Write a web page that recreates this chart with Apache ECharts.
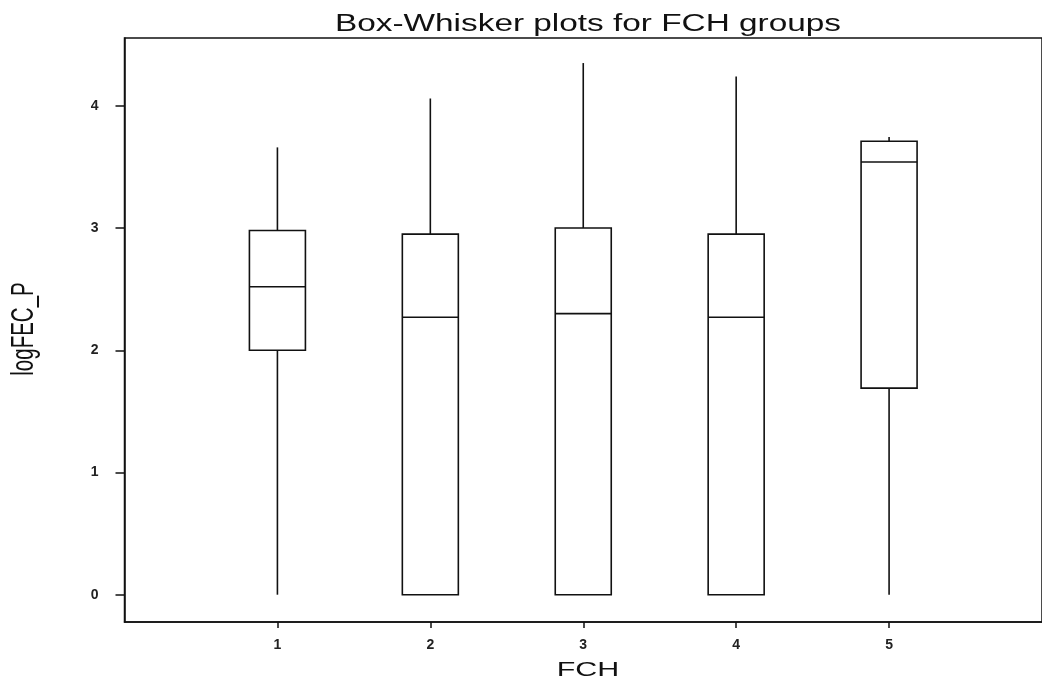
<!DOCTYPE html>
<html>
<head>
<meta charset="utf-8">
<title>Box-Whisker plots for FCH groups</title>
<script src="https://cdn.jsdelivr.net/npm/echarts@6/dist/echarts.min.js"></script>
<style>
  html, body { margin: 0; padding: 0; background: #fff; }
  #chart { width: 1042px; height: 682px; }
</style>
</head>
<body>
<div id="chart"></div>
<script>
  // FCH groups and five-number summaries
  let groups = [1, 2, 3, 4, 5]
  let minVals = [0, 0, 0, 0, 0]
  let q1Vals = [2.0, 0, 0, 0, 1.69]
  let medianVals = [2.52, 2.27, 2.30, 2.27, 3.54]
  let q3Vals = [2.98, 2.95, 3.00, 2.95, 3.71]
  let maxVals = [3.66, 4.06, 4.35, 4.24, 3.745]
  let yTicks = [0, 1, 2, 3, 4]

  let boxData = groups.map((g, i) => [g, minVals[i], q1Vals[i], medianVals[i], q3Vals[i], maxVals[i]])

  let dom = document.getElementById('chart')
  let myChart = echarts.init(dom)

  const font = '"Liberation Sans", Arial, sans-serif'
  const halfW = 28

  function renderBox(params, api) {
    let x = api.value(0)
    let pMin = api.coord([x, api.value(1)])
    let pQ1 = api.coord([x, api.value(2)])
    let pMed = api.coord([x, api.value(3)])
    let pQ3 = api.coord([x, api.value(4)])
    let pMax = api.coord([x, api.value(5)])
    let cx = pMed[0]
    let lineStyle = { stroke: '#111', lineWidth: 1.6, fill: null }
    return {
      type: 'group',
      children: [
        { type: 'line', shape: { x1: cx, y1: pMax[1], x2: cx, y2: pQ3[1] }, style: lineStyle },
        { type: 'line', shape: { x1: cx, y1: pQ1[1], x2: cx, y2: pMin[1] }, style: lineStyle },
        { type: 'rect', shape: { x: cx - halfW, y: pQ3[1], width: halfW * 2, height: pQ1[1] - pQ3[1] },
          style: { stroke: '#111', lineWidth: 1.6, fill: '#fff' } },
        { type: 'line', shape: { x1: cx - halfW, y1: pMed[1], x2: cx + halfW, y2: pMed[1] }, style: lineStyle }
      ]
    }
  }

  let option = {
    animation: false,
    backgroundColor: '#fff',
    grid: {
      left: 124.5,
      right: -11,
      top: 38,
      bottom: 60,
      show: true,
      borderColor: '#111',
      borderWidth: 1.5,
      backgroundColor: 'transparent'
    },
    xAxis: {
      type: 'value',
      min: 0,
      max: 6,
      splitLine: { show: false },
      axisLine: { onZero: false, lineStyle: { color: '#111', width: 1.5 } },
      axisTick: { customValues: groups, length: 6, lineStyle: { color: '#111', width: 1.5 } },
      axisLabel: {
        customValues: groups,
        margin: 16,
        color: '#222',
        fontSize: 14,
        fontWeight: 'bold',
        fontFamily: font
      }
    },
    yAxis: {
      type: 'value',
      min: -0.2234,
      max: 4.555,
      splitLine: { show: false },
      axisLine: { show: true, onZero: false, lineStyle: { color: '#111', width: 1.5 } },
      axisTick: { show: true, customValues: yTicks, length: 9, lineStyle: { color: '#111', width: 1.5 } },
      axisLabel: {
        customValues: yTicks,
        margin: 26,
        color: '#222',
        fontSize: 14,
        fontWeight: 'bold',
        fontFamily: font
      }
    },
    graphic: [
      {
        type: 'text', x: 588, y: 25, scaleX: 1.45,
        style: { text: 'Box-Whisker plots for FCH groups', font: '23px ' + font, fill: '#111',
          textAlign: 'center', textVerticalAlign: 'middle' }
      },
      {
        type: 'text', x: 588, y: 670, scaleX: 1.45,
        style: { text: 'FCH', font: '21px ' + font, fill: '#111',
          textAlign: 'center', textVerticalAlign: 'middle' }
      },
      {
        type: 'text', x: 25, y: 329, rotation: Math.PI / 2, scaleY: 1.5,
        style: { text: 'logFEC_P', font: '20.5px ' + font, fill: '#111',
          textAlign: 'center', textVerticalAlign: 'middle' }
      }
    ],
    series: [
      {
        type: 'custom',
        renderItem: renderBox,
        encode: { x: 0, y: [1, 2, 3, 4, 5] },
        data: boxData
      }
    ]
  }

  myChart.setOption(option, true)
</script>
</body>
</html>
